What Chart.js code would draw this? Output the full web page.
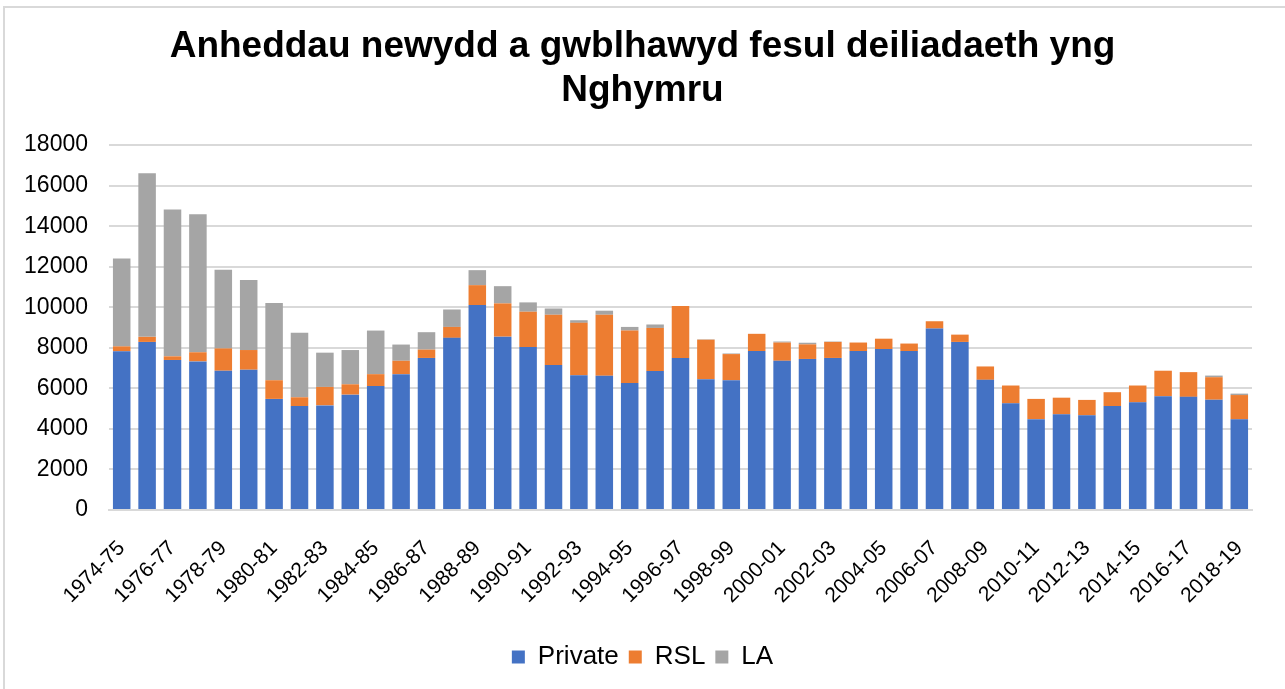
<!DOCTYPE html>
<html>
<head>
<meta charset="utf-8">
<title>Anheddau newydd</title>
<script src="https://cdn.jsdelivr.net/npm/chart.js@4.4.1/dist/chart.umd.min.js"></script>
<style>
    html, body { margin: 0; padding: 0; background: #fff; overflow: hidden; }
    #frame {
        position: absolute; left: 3px; top: 6px; width: 1300px; height: 700px;
        border-left: 2px solid #d9d9d9; border-top: 2px solid #d9d9d9;
    }
    #wrap { position: absolute; left: 0; top: 0; width: 1285px; height: 689px; }
</style>
</head>
<body>
<div id="frame"></div>
<div id="wrap"><canvas id="chart"></canvas></div>
<script>
// blynyddoedd (categories)
const years = [
    '1974-75', '1975-76', '1976-77', '1977-78', '1978-79', '1979-80', '1980-81', '1981-82', '1982-83',
    '1983-84', '1984-85', '1985-86', '1986-87', '1987-88', '1988-89', '1989-90', '1990-91', '1991-92',
    '1992-93', '1993-94', '1994-95', '1995-96', '1996-97', '1997-98', '1998-99', '1999-00', '2000-01',
    '2001-02', '2002-03', '2003-04', '2004-05', '2005-06', '2006-07', '2007-08', '2008-09', '2009-10',
    '2010-11', '2011-12', '2012-13', '2013-14', '2014-15', '2015-16', '2016-17', '2017-18', '2018-19'
];

const privateVals = [
    7830, 8290, 7400, 7330, 6870, 6920, 5480, 5130, 5160, 5690, 6110, 6700, 7500, 8490, 10110,
    8550, 8040, 7150, 6650, 6620, 6270, 6850, 7500, 6450, 6400, 7840, 7360, 7450, 7500, 7840,
    7940, 7840, 8950, 8290, 6420, 5260, 4480, 4720, 4670, 5130, 5310, 5610, 5580, 5440, 4470
];
const rslVals = [
    240, 250, 180, 450, 1100, 970, 920, 430, 910, 510, 590, 660, 410, 540, 980,
    1640, 1740, 2480, 2580, 3010, 2580, 2130, 2560, 1950, 1290, 850, 900, 720, 790, 420,
    510, 370, 360, 360, 660, 880, 1000, 820, 760, 680, 830, 1260, 1220, 1110, 1200
];
const laVals = [
    4340, 8070, 7240, 6810, 3880, 3460, 3810, 3180, 1690, 1690, 2150, 800, 860, 860, 740,
    850, 460, 310, 130, 200, 180, 170, 0, 20, 30, 0, 50, 80, 20, 0,
    0, 0, 0, 0, 0, 0, 0, 0, 0, 0, 0, 0, 0, 80, 70
];

const yTicks = [0, 2000, 4000, 6000, 8000, 10000, 12000, 14000, 16000, 18000];

const FONT = "'Liberation Sans', Arial, sans-serif";
const GRID = '#d9d9d9';

const ctx = document.getElementById('chart').getContext('2d');
new Chart(ctx, {
    type: 'bar',
    data: {
        labels: years,
        datasets: [
            { label: 'Private', data: privateVals, backgroundColor: '#4472c4' },
            { label: 'RSL', data: rslVals, backgroundColor: '#ed7d31' },
            { label: 'LA', data: laVals, backgroundColor: '#a5a5a5' }
        ]
    },
    options: {
        responsive: true,
        maintainAspectRatio: false,
        animation: false,
        datasets: {
            bar: { barPercentage: 0.69, categoryPercentage: 1.0 }
        },
        layout: { padding: { left: 0, right: 0, top: 0, bottom: 9 } },
        plugins: {
            title: {
                display: true,
                text: ['Anheddau newydd a gwblhawyd fesul deiliadaeth yng', 'Nghymru'],
                color: '#000',
                font: { family: FONT, size: 37, weight: 'bold', lineHeight: 1.19 },
                padding: { top: 25, bottom: 32 }
            },
            legend: {
                position: 'bottom',
                labels: {
                    color: '#000',
                    font: { family: FONT, size: 26 },
                    boxWidth: 13,
                    boxHeight: 13,
                    padding: 10
                }
            },
            tooltip: { enabled: false }
        },
        scales: {
            x: {
                stacked: true,
                afterFit: s => { s.height = 124; },
                grid: { display: false },
                border: { display: true, color: GRID, width: 2 },
                ticks: {
                    autoSkip: false,
                    minRotation: 45,
                    maxRotation: 45,
                    color: '#000',
                    font: { family: FONT, size: 21 },
                    padding: 18,
                    callback: (v, i) => (i % 2 === 0 ? years[i] : '')
                }
            },
            y: {
                stacked: true,
                min: 0,
                max: 18000,
                afterFit: s => { s.width = 109; },
                afterBuildTicks: s => { s.ticks = yTicks.map(v => ({ value: v })); },
                grid: { color: GRID, lineWidth: 2, drawTicks: false },
                border: { display: false },
                ticks: {
                    color: '#000',
                    font: { family: FONT, size: 23 },
                    padding: 21,
                    callback: v => String(v)
                }
            },
            // empty right-hand axis, only keeps the right margin so the title stays centred
            yPad: {
                position: 'right',
                afterFit: s => { s.width = 33; },
                grid: { display: false },
                border: { display: false },
                ticks: { display: false }
            }
        }
    }
});
</script>
</body>
</html>
